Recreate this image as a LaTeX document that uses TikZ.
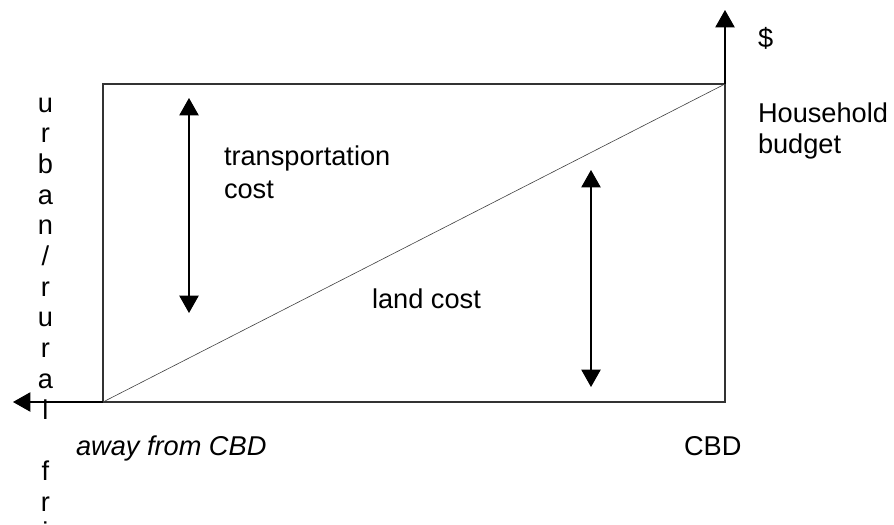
\documentclass[tikz,border=0pt]{standalone}
\usepackage{fontspec}
\setmainfont{Liberation Sans}
\usetikzlibrary{arrows.meta}
\begin{document}
\begin{tikzpicture}[x=0.75pt,y=-0.75pt,
  lbl/.style={inner sep=0pt, outer sep=0pt, anchor=base west, font=\fontsize{20.4}{24}\selectfont},
  vch/.style={inner sep=0pt, outer sep=0pt, anchor=base, font=\fontsize{20.4}{24}\selectfont},
  frame/.style={draw=black!80, line width=0.8pt},
  diag/.style={draw=black!75, line width=0.45pt},
  arr/.style={line width=0.8pt, -{Triangle[length=13pt,width=14.5pt]}},
  darr/.style={line width=0.8pt, {Triangle[length=13pt,width=14.5pt]}-{Triangle[length=13pt,width=14.5pt]}}]
\useasboundingbox (0,0) rectangle (894,525);
\clip (0,0) rectangle (894,525);
% frame corners
\coordinate (O)  at (103,402);
\coordinate (C)  at (725,402);
\coordinate (T)  at (725,84);
\coordinate (TL) at (103,84);
\coordinate (up) at (725,10);
\coordinate (lf) at (13,402);
\draw[frame] (O) -- (TL) -- (T) -- (C) -- cycle;
\draw[diag] (O) -- (T);
\draw[arr] (T) -- (up);
\draw[arr] (O) -- (lf);
% double arrows
\coordinate (ta) at (189,98);
\coordinate (tb) at (189,313);
\coordinate (la) at (591,170);
\coordinate (lb) at (591,387);
\draw[darr] (ta) -- (tb);
\draw[darr] (la) -- (lb);
% labels
\node[lbl] (dol) at (758,47) {\$};
\node[lbl] (hh1) at (758,122) {Household};
\node[lbl] (hh2) at (758,153) {budget};
\node[lbl] (tc1) at (224,165) {transportation};
\node[lbl] (tc2) at (224,198) {cost};
\node[lbl] (lc) at (372,308) {land cost};
\node[lbl, font=\fontsize{20.4}{24}\selectfont\itshape] (away) at (76,455) {away from CBD};
\node[lbl] (cbd) at (684,455) {CBD};
% vertical text
\foreach \ch [count=\i from 0] in {u,r,b,a,n,/,r,u,r,a,l}
  \node[vch] (v\i) at (45.5,{112+30.7*\i}) {\ch};
\node[vch] (v12) at (45.5,{112+30.7*12}) {f};
\node[vch] (v13) at (45.5,{112+30.7*13}) {r};
\node[vch] (v14) at (45.5,{112+30.7*14}) {i};
\end{tikzpicture}
\end{document}
